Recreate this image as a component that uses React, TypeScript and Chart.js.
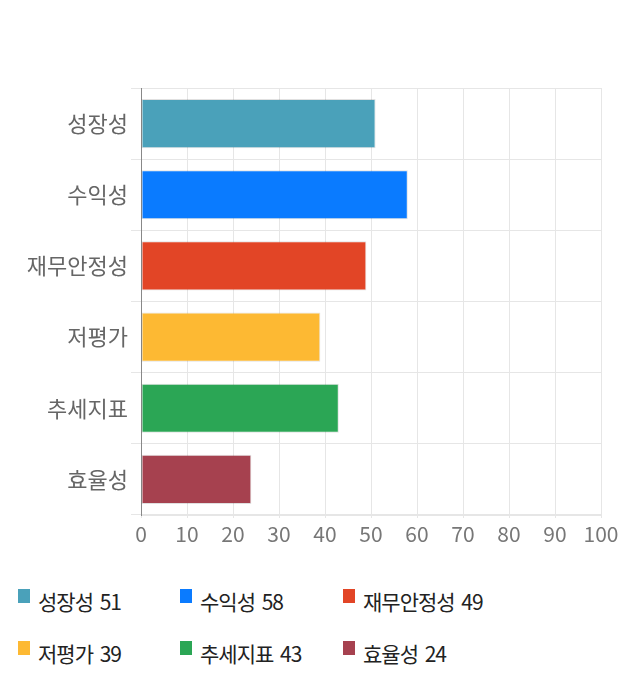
import { useEffect, useRef } from "react"
import { Chart, registerables, type ChartConfiguration } from "chart.js"

Chart.register(...registerables)

const categories = ["성장성", "수익성", "재무안정성", "저평가", "추세지표", "효율성"]
const scores = [51, 58, 49, 39, 43, 24]
const barColors = ["#4aa1ba", "#0a7bff", "#e24526", "#fdb933", "#2ba655", "#a6414f"]
const xTicks = [0, 10, 20, 30, 40, 50, 60, 70, 80, 90, 100]

const FONT = "'Noto Sans CJK KR', 'Noto Sans', sans-serif"

export default function App() {
  const chartRef = useRef<HTMLCanvasElement>(null)
  const chartInstance = useRef<Chart | null>(null)

  useEffect(() => {
    if (!chartRef.current) return
    const ctx = chartRef.current.getContext("2d")
    if (!ctx) return

    if (chartInstance.current) {
      chartInstance.current.destroy()
    }

    const config: ChartConfiguration = {
      type: "bar",
      data: {
        labels: categories,
        datasets: [
          {
            data: scores,
            backgroundColor: barColors,
            borderColor: "rgba(0, 0, 0, 0.12)",
            borderWidth: 1,
            borderSkipped: false,
            categoryPercentage: 1,
            barPercentage: 0.69,
          },
        ],
      },
      options: {
        indexAxis: "y",
        animation: false,
        responsive: true,
        maintainAspectRatio: false,
        layout: { padding: { top: 80, right: 31, left: 0, bottom: 0 } },
        scales: {
          x: {
            min: 0,
            max: 100,
            afterBuildTicks: (scale) => {
              scale.ticks = xTicks.map((v) => ({ value: v }))
            },
            afterFit: (scale) => {
              scale.height = 40
            },
            grid: { color: "#e6e6e6", tickLength: 3 },
            border: { color: "#e6e6e6" },
            ticks: {
              color: "#777",
              padding: 3,
              font: { family: FONT, size: 21 },
            },
          },
          y: {
            afterFit: (scale) => {
              scale.width = 133
            },
            grid: { color: "#e6e6e6", offset: true, tickLength: 10 },
            border: { color: "#888" },
            ticks: {
              color: "#666",
              padding: 3,
              font: { family: FONT, size: 22 },
            },
          },
        },
        plugins: {
          legend: { display: false },
          tooltip: { enabled: false },
        },
      },
    }

    chartInstance.current = new Chart(ctx, config)

    return () => {
      if (chartInstance.current) {
        chartInstance.current.destroy()
        chartInstance.current = null
      }
    }
  }, [])

  return (
    <div style={{ width: 624, fontFamily: FONT }}>
      <div style={{ position: "relative", width: 624, height: 547 }}>
        <canvas ref={chartRef} />
      </div>
      <div
        style={{
          display: "grid",
          gridTemplateColumns: "162px 163px 160px",
          rowGap: 21,
          paddingLeft: 10,
          marginTop: 30,
        }}
      >
        {categories.map((name, i) => (
          <div
            key={name}
            style={{
              display: "flex",
              alignItems: "center",
              height: 31,
              fontSize: 21,
              letterSpacing: -1,
              wordSpacing: 3,
              color: "#222",
              whiteSpace: "pre",
            }}
          >
            <span
              style={{
                display: "inline-block",
                width: 12,
                height: 14,
                marginRight: 8,
                marginTop: -10,
                background: barColors[i],
              }}
            />
            {`${name} ${scores[i]}`}
          </div>
        ))}
      </div>
    </div>
  )
}
